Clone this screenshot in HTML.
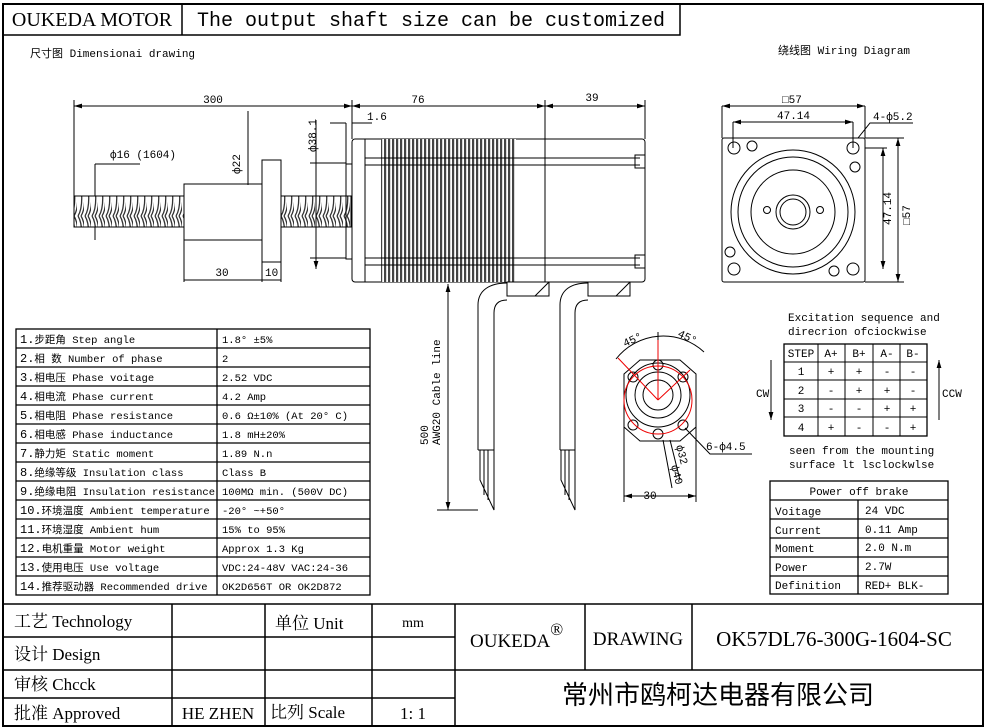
<!DOCTYPE html>
<html><head><meta charset="utf-8"><style>
html,body{margin:0;padding:0;background:#fff;}
svg{display:block;font-family:"Liberation Mono","Noto Sans CJK SC",monospace;}
.t{font-family:"Liberation Serif","Noto Serif CJK SC",serif;}
</style></head><body>
<svg width="986" height="728" viewBox="0 0 986 728" xmlns="http://www.w3.org/2000/svg">
<defs>
<marker id="a" viewBox="0 0 10 10" refX="10" refY="5" markerWidth="8" markerHeight="8" orient="auto-start-reverse"><path d="M0,2L10,5L0,8z" fill="#000"/></marker>
<pattern id="thr" width="7" height="36" patternUnits="userSpaceOnUse"><rect width="7" height="36" fill="#fff"/><path d="M1,0 C6,8 6,28 1,36 M4,0 C9,8 9,28 4,36" stroke="#333" stroke-width="1.3" fill="none"/></pattern>
<pattern id="fin" width="4" height="10" patternUnits="userSpaceOnUse"><rect width="4" height="10" fill="#fff"/><rect width="2.2" height="10" fill="#444"/></pattern>
</defs>
<g fill="none" stroke="#000" stroke-width="1">
<path d="M3,4H983V726H3Z" stroke-width="2"/>
<path d="M3,35H680V4M182,4V35" stroke-width="1.5"/>
</g>
<text x="92" y="26" font-size="20" text-anchor="middle" class="t">OUKEDA MOTOR</text>
<text x="431" y="26" font-size="20" text-anchor="middle">The output shaft size can be customized</text>
<text x="30" y="57" font-size="11">尺寸图 Dimensionai drawing</text>
<text x="778" y="54" font-size="11">绕线图 Wiring Diagram</text>

<g fill="none" stroke="#000" stroke-width="1">
<rect x="74" y="196" width="110" height="31" fill="url(#thr)"/>
<rect x="281" y="196" width="70" height="31" fill="url(#thr)"/>
<rect x="184" y="184" width="78" height="56" fill="#fff"/>
<rect x="262" y="160" width="19" height="102" fill="#fff"/>
<rect x="346" y="164" width="6" height="95"/>
<rect x="352" y="139" width="293" height="143" rx="3"/>
<path d="M365,139V282"/>
<rect x="381" y="139" width="135" height="143" fill="url(#fin)" stroke="none"/>
<path d="M365,158H640M365,165H640M365,258H640M365,265H640"/>
<rect x="635" y="155" width="10" height="13"/><rect x="635" y="255" width="10" height="13"/>
<path d="M545,100V282"/>
<path d="M74,106H352" marker-start="url(#a)" marker-end="url(#a)"/>
<path d="M352,106H545" marker-start="url(#a)" marker-end="url(#a)"/>
<path d="M545,106H645" marker-start="url(#a)" marker-end="url(#a)"/>
<path d="M74,100V196M352,100V139M645,100V139"/>
<path d="M330,123H346M346,123V164M352,123H372"/>
<path d="M248,111V185" />
<path d="M316,120V164M316,258V269" marker-end="url(#a)"/>
<path d="M316,164V258"/>
<path d="M310,163H346M310,258H346"/>
<path d="M95,164V196M95,227V240" />
<path d="M95,164H140"/>
<path d="M184,240V282M262,262V282M281,262V282M184,280H262M262,280H281"/>
<rect x="507" y="282" width="42" height="14"/><path d="M507,296H535L549,282"/>
<rect x="588" y="282" width="42" height="14"/><path d="M588,296H616L630,282"/>
<path d="M507,283C490,283 478,290 478,305V450M507,300C498,300 494,305 494,313V450"/>
<path d="M588,283C571,283 560,290 560,305V450M588,300C579,300 575,305 575,313V450"/>
<path d="M478,450H494M480,450V480L494,510V450M484,450V495M488,450V500"/>
<path d="M560,450H575M561,450V480L575,510V450M565,450V495M569,450V500"/>
<path d="M448,284V510" marker-start="url(#a)" marker-end="url(#a)"/>
<path d="M437,510H478"/>
</g>
<g font-size="11" fill="#000">
<text x="213" y="103" text-anchor="middle">300</text>
<text x="418" y="103" text-anchor="middle">76</text>
<text x="592" y="101" text-anchor="middle">39</text>
<text x="367" y="120">1.6</text>
<text x="110" y="158">ф16 (1604)</text>
<text x="240" y="174" transform="rotate(-90 240 174)" >ф22</text>
<text x="222" y="276" text-anchor="middle">30</text>
<text x="265" y="276">10</text>
<text x="316" y="152" transform="rotate(-90 316 152)">ф38.1</text>
<text x="428" y="445" transform="rotate(-90 428 445)">500</text>
<text x="440" y="445" transform="rotate(-90 440 445)">AWG20 Cable line</text>
</g>

<g fill="none" stroke="#000" stroke-width="1">
<rect x="722" y="138" width="143" height="144" rx="2"/>
<circle cx="734" cy="148" r="6"/><circle cx="853" cy="148" r="6"/><circle cx="734" cy="269" r="6"/><circle cx="853" cy="269" r="6"/>
<circle cx="752" cy="146" r="5"/><circle cx="855" cy="167" r="5"/><circle cx="730" cy="252" r="5"/><circle cx="834" cy="271" r="5"/>
<circle cx="793" cy="212" r="62"/><circle cx="793" cy="212" r="55"/><circle cx="793" cy="212" r="42"/>
<circle cx="793" cy="212" r="17"/><circle cx="793" cy="212" r="13"/>
<circle cx="767" cy="210" r="3.5"/><circle cx="820" cy="210" r="3.5"/>
<path d="M722,106V138M865,106V138M733,122V148M853,122V148"/>
<path d="M722,106H865" marker-start="url(#a)" marker-end="url(#a)"/>
<path d="M733,122H853" marker-start="url(#a)" marker-end="url(#a)"/>
<path d="M858,138L870,123H913"/>
<path d="M865,148H887M865,282H904M865,138H904"/>
<path d="M883,148V269" marker-start="url(#a)" marker-end="url(#a)"/>
<path d="M898,138V282" marker-start="url(#a)" marker-end="url(#a)"/>
</g>
<g font-size="11">
<text x="782" y="103">□57</text>
<text x="777" y="119">47.14</text>
<text x="873" y="120">4-ф5.2</text>
<text x="891" y="225" transform="rotate(-90 891 225)">47.14</text>
<text x="910" y="225" transform="rotate(-90 910 225)">□57</text>
</g>

<g fill="none" stroke="#000" stroke-width="1">
<path d="M624,374L640,360H680L696,374V427L680,441H640L624,427Z"/>
<circle cx="658" cy="395" r="32"/><circle cx="658" cy="395" r="23"/><circle cx="658" cy="395" r="15"/>
<circle cx="658" cy="365" r="5"/><circle cx="633" cy="377" r="5"/><circle cx="683" cy="377" r="5"/>
<circle cx="633" cy="425" r="5"/><circle cx="683" cy="425" r="5"/><circle cx="658" cy="434" r="5"/>
<path d="M624,427V502M696,427V502"/>
<path d="M624,496H696" marker-start="url(#a)" marker-end="url(#a)"/>
<path d="M685,428L710,454H752"/>
<path d="M663,440L672,488M670,440L680,480"/>
<path d="M616,359A60,60 0 0 1 704,352"/>
<path d="M658,332V360"/>
</g>
<g fill="none" stroke="#e00" stroke-width="1">
<circle cx="658" cy="400" r="34"/>
<path d="M658,400V340M658,400L618,358M658,400L690,370"/>
</g>
<g font-size="11">
<text x="625" y="347" transform="rotate(-25 625 347)">45°</text>
<text x="677" y="336" transform="rotate(25 677 336)">45°</text>
<text x="706" y="450">6-ф4.5</text>
<text x="676" y="446" transform="rotate(75 676 446)">ф32</text>
<text x="671" y="466" transform="rotate(75 671 466)">ф40</text>
<text x="650" y="499" text-anchor="middle">30</text>
</g>

<g font-size="11">
<text x="788" y="321">Excitation sequence and</text>
<text x="788" y="335">direcrion ofciockwise</text>
<text x="789" y="454">seen from the mounting</text>
<text x="789" y="468">surface lt lsclockwlse</text>
<text x="756" y="397">CW</text><text x="942" y="397">CCW</text>
</g>
<g fill="none" stroke="#000" stroke-width="1">
<rect x="784" y="344" width="143" height="92" stroke-width="1.3"/>
<path d="M784,362H927M784,380H927M784,399H927M784,417H927M818,344V436M845,344V436M873,344V436M900,344V436"/>
<path d="M771,360V420" marker-end="url(#a)"/><path d="M939,420V360" marker-end="url(#a)"/>
</g>
<g font-size="11" text-anchor="middle">
<text x="801" y="357">STEP</text><text x="831" y="357">A+</text><text x="859" y="357">B+</text><text x="887" y="357">A-</text><text x="913" y="357">B-</text>
<text x="801" y="375">1</text><text x="831" y="375">+</text><text x="859" y="375">+</text><text x="887" y="375">-</text><text x="913" y="375">-</text>
<text x="801" y="394">2</text><text x="831" y="394">-</text><text x="859" y="394">+</text><text x="887" y="394">+</text><text x="913" y="394">-</text>
<text x="801" y="412">3</text><text x="831" y="412">-</text><text x="859" y="412">-</text><text x="887" y="412">+</text><text x="913" y="412">+</text>
<text x="801" y="431">4</text><text x="831" y="431">+</text><text x="859" y="431">-</text><text x="887" y="431">-</text><text x="913" y="431">+</text>
</g>
<g fill="none" stroke="#000" stroke-width="1.3">
<rect x="770" y="481" width="178" height="113"/>
<path d="M770,500H948M770,519H948M770,538H948M770,557H948M770,576H948M858,500V594"/>
</g>
<g font-size="11">
<text x="859" y="495" text-anchor="middle">Power off brake</text>
<text x="775" y="515">Voitage</text><text x="865" y="514">24 VDC</text>
<text x="775" y="534">Current</text><text x="865" y="533">0.11 Amp</text>
<text x="775" y="552">Moment</text><text x="865" y="551">2.0 N.m</text>
<text x="775" y="571">Power</text><text x="865" y="570">2.7W</text>
<text x="775" y="589">Definition</text><text x="865" y="589">RED+ BLK-</text>
</g>

<g fill="none" stroke="#000" stroke-width="1.3">
<rect x="16" y="329" width="354" height="266"/>
<path d="M16,348H370M16,367H370M16,386H370M16,405H370M16,424H370M16,443H370M16,462H370M16,481H370M16,500H370M16,519H370M16,538H370M16,557H370M16,576H370M217,329V595"/>
</g>
<g font-size="10.5">
<text x="20" y="343"><tspan font-size="12">1.</tspan>步距角 Step angle</text><text x="222" y="343">1.8° ±5%</text>
<text x="20" y="362"><tspan font-size="12">2.</tspan>相  数 Number of phase</text><text x="222" y="362">2</text>
<text x="20" y="381"><tspan font-size="12">3.</tspan>相电压 Phase voitage</text><text x="222" y="381">2.52 VDC</text>
<text x="20" y="400"><tspan font-size="12">4.</tspan>相电流 Phase current</text><text x="222" y="400">4.2 Amp</text>
<text x="20" y="419"><tspan font-size="12">5.</tspan>相电阻 Phase resistance</text><text x="222" y="419">0.6 Ω±10% (At 20° C)</text>
<text x="20" y="438"><tspan font-size="12">6.</tspan>相电感 Phase inductance</text><text x="222" y="438">1.8 mH±20%</text>
<text x="20" y="457"><tspan font-size="12">7.</tspan>静力矩 Static moment</text><text x="222" y="457">1.89 N.n</text>
<text x="20" y="476"><tspan font-size="12">8.</tspan>绝缘等级 Insulation class</text><text x="222" y="476">Class B</text>
<text x="20" y="495"><tspan font-size="12">9.</tspan>绝缘电阻 Insulation resistance</text><text x="222" y="495">100MΩ min. (500V DC)</text>
<text x="20" y="514"><tspan font-size="12">10.</tspan>环境温度 Ambient temperature</text><text x="222" y="514">-20° ~+50°</text>
<text x="20" y="533"><tspan font-size="12">11.</tspan>环境湿度 Ambient hum</text><text x="222" y="533">15% to 95%</text>
<text x="20" y="552"><tspan font-size="12">12.</tspan>电机重量 Motor weight</text><text x="222" y="552">Approx 1.3 Kg</text>
<text x="20" y="571"><tspan font-size="12">13.</tspan>使用电压 Use voltage</text><text x="222" y="571">VDC:24-48V VAC:24-36</text>
<text x="20" y="590"><tspan font-size="12">14.</tspan>推荐驱动器 Recommended drive</text><text x="222" y="590">OK2D656T OR OK2D872</text>
</g>

<g fill="none" stroke="#000" stroke-width="1.5">
<path d="M3,604H983M3,670H983M3,637H455M3,698H455M172,604V726M265,604V726M372,604V726M455,604V726M585,604V670M692,604V670"/>
</g>
<g font-size="17" class="t">
<text x="14" y="627">工艺 Technology</text>
<text x="275" y="629">单位 Unit</text>
<text x="413" y="627" text-anchor="middle" font-size="14">mm</text>
<text x="14" y="660">设计 Design</text>
<text x="14" y="690">审核 Chcck</text>
<text x="14" y="719">批准 Approved</text>
<text x="218" y="719" text-anchor="middle">HE ZHEN</text>
<text x="270" y="718">比列 Scale</text>
<text x="413" y="719" text-anchor="middle">1: 1</text>
<text x="470" y="647" font-size="19">OUKEDA<tspan dy="-12" font-size="17">®</tspan></text>
<text x="638" y="645" text-anchor="middle" font-size="19">DRAWING</text>
<text x="834" y="646" text-anchor="middle" font-size="21">OK57DL76-300G-1604-SC</text>
<text x="718" y="704" text-anchor="middle" font-size="26" font-family="'Noto Sans CJK SC',sans-serif">常州市鸥柯达电器有限公司</text>
</g>
</svg>
</body></html>
